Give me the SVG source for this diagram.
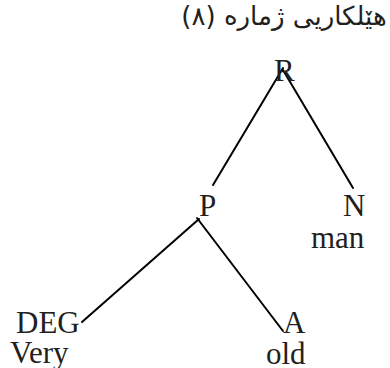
<svg xmlns="http://www.w3.org/2000/svg" width="390" height="368" viewBox="0 0 390 368">
<style>
.lbl{font-family:"Liberation Serif","Times New Roman",serif;font-size:31px;fill:#231f20}
.edge{stroke:#000;stroke-width:2;fill:none;stroke-linecap:round}
.title{font-family:"DejaVu Sans","Noto Sans",sans-serif;font-size:26px;fill:#231f20}
</style>
<rect width="390" height="368" fill="#fff"/>
<text class="title" x="284" y="25" text-anchor="middle" direction="rtl">هێلکاریی ژمارە (٨)</text>
<g id="connectors">
<line class="edge" x1="283" y1="68" x2="213" y2="185"/>
<line class="edge" x1="283" y1="70" x2="353" y2="188"/>
<line class="edge" x1="199" y1="219" x2="82" y2="322"/>
<line class="edge" x1="197" y1="218" x2="283" y2="331"/>
</g>
<g id="node-R"><text class="lbl" x="274" y="81">R</text></g>
<g id="node-P"><text class="lbl" x="199" y="216">P</text></g>
<g id="node-N"><text class="lbl" x="343" y="216">N</text><text class="lbl" x="311" y="248">man</text></g>
<g id="node-DEG"><text class="lbl" x="16" y="333">DEG</text><text class="lbl" x="10" y="363">Very</text></g>
<g id="node-A"><text class="lbl" x="283" y="333">A</text><text class="lbl" x="266" y="364">old</text></g>
</svg>
